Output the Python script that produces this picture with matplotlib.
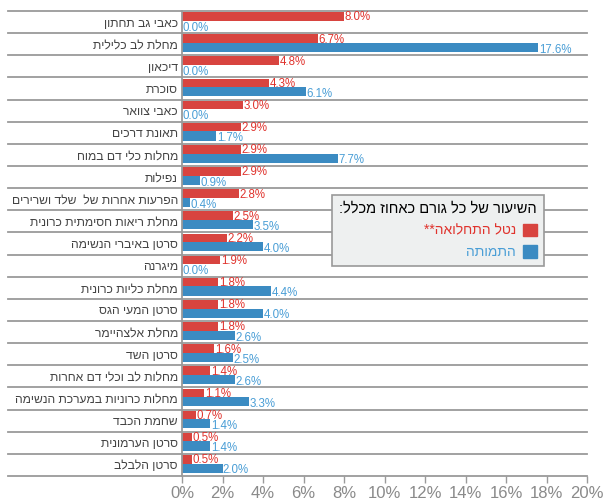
import matplotlib
matplotlib.use("Agg")
import matplotlib.pyplot as plt
from matplotlib.patches import Patch
import numpy as np

categories = [
    "כאבי גב תחתון",
    "מחלת לב כלילית",
    "דיכאון",
    "סוכרת",
    "כאבי צוואר",
    "תאונת דרכים",
    "מחלות כלי דם במוח",
    "נפילות",
    "הפרעות אחרות של  שלד ושרירים",
    "מחלת ריאות חסימתית כרונית",
    "סרטן באיברי הנשימה",
    "מיגרנה",
    "מחלת כליות כרונית",
    "סרטן המעי הגס",
    "מחלת אלצהיימר",
    "סרטן השד",
    "מחלות לב וכלי דם אחרות",
    "מחלות כרוניות במערכת הנשימה",
    "שחמת הכבד",
    "סרטן הערמונית",
    "סרטן הלבלב",
]
burden = [8.0, 6.7, 4.8, 4.3, 3.0, 2.9, 2.9, 2.9, 2.8, 2.5, 2.2, 1.9, 1.8, 1.8, 1.8, 1.6, 1.4, 1.1, 0.7, 0.5, 0.5]
mortality = [0.0, 17.6, 0.0, 6.1, 0.0, 1.7, 7.7, 0.9, 0.4, 3.5, 4.0, 0.0, 4.4, 4.0, 2.6, 2.5, 2.6, 3.3, 1.4, 1.4, 2.0]
xticks = [0, 2, 4, 6, 8, 10, 12, 14, 16, 18, 20]
legend_title = "השיעור של כל גורם כאחוז מכלל:"
series_names = ["נטל התחלואה**", "התמותה"]

def rtl(s):
    return s[::-1]

plt.rcParams['font.family'] = ['Liberation Sans', 'DejaVu Sans']

RED = "#d8443f"
BLUE = "#3b8bc2"
RED_T = "#e0332d"
BLUE_T = "#4a9ed6"
GRID = "#9a9a9a"

fig = plt.figure(figsize=(6.11, 5.01), dpi=100)
ax = fig.add_axes([182/611, 1-476/501, 405/611, 465/501])

n = len(categories)
y = np.arange(n)
ax.barh(y - 0.45, burden, height=0.39, align='edge', color=RED, zorder=3)
ax.barh(y - 0.06, mortality, height=0.41, align='edge', color=BLUE, zorder=3)

for i in range(n):
    ax.text(burden[i] + 0.02, i - 0.21, f"{burden[i]:.1f}%", color=RED_T,
            fontsize=8.3, va='center', ha='left', zorder=4)
    ax.text(mortality[i] + 0.02, i + 0.25, f"{mortality[i]:.1f}%", color=BLUE_T,
            fontsize=8.3, va='center', ha='left', zorder=4)

ax.set_xlim(0, 20)
ax.set_ylim(n - 0.5, -0.5)

# separators
for b in np.arange(-0.5, n + 0.5, 1):
    ax.plot([-174/20.25, 20], [b, b], color=GRID, lw=1.3, clip_on=False, zorder=2)

ax.set_yticks(y)
ax.set_yticklabels([rtl(c) for c in categories], fontsize=8.7, color="#444444")
ax.tick_params(axis='y', length=0, pad=3)
ax.set_xticks(xticks)
ax.set_xticklabels([f"{t}%" for t in xticks], fontsize=12, color="#8a8a8a")
ax.tick_params(axis='x', length=5, color=GRID, width=1, pad=2)

for s in ['top', 'right', 'bottom']:
    ax.spines[s].set_visible(False)
ax.spines['left'].set_color(GRID)
ax.spines['left'].set_linewidth(1.3)
ax.spines['left'].set_zorder(5)

handles = [Patch(color=RED), Patch(color=BLUE)]
leg = fig.legend(handles, [rtl(s) for s in series_names], title=rtl(legend_title),
                 loc='upper right', bbox_to_anchor=(544/611, 1-195/501),
                 markerfirst=False, fontsize=10, title_fontsize=10.5,
                 labelcolor=[RED_T, BLUE_T], frameon=True, fancybox=False,
                 handlelength=1.0, handleheight=1.0, handletextpad=0.5,
                 labelspacing=0.55, borderpad=0.5, borderaxespad=0,
                 alignment='right')
leg.get_frame().set_facecolor("#eef0f0")
leg.get_frame().set_edgecolor("#999999")
leg.get_frame().set_linewidth(1.2)
leg.get_frame().set_alpha(1)

fig.savefig("out.png", dpi=100)
